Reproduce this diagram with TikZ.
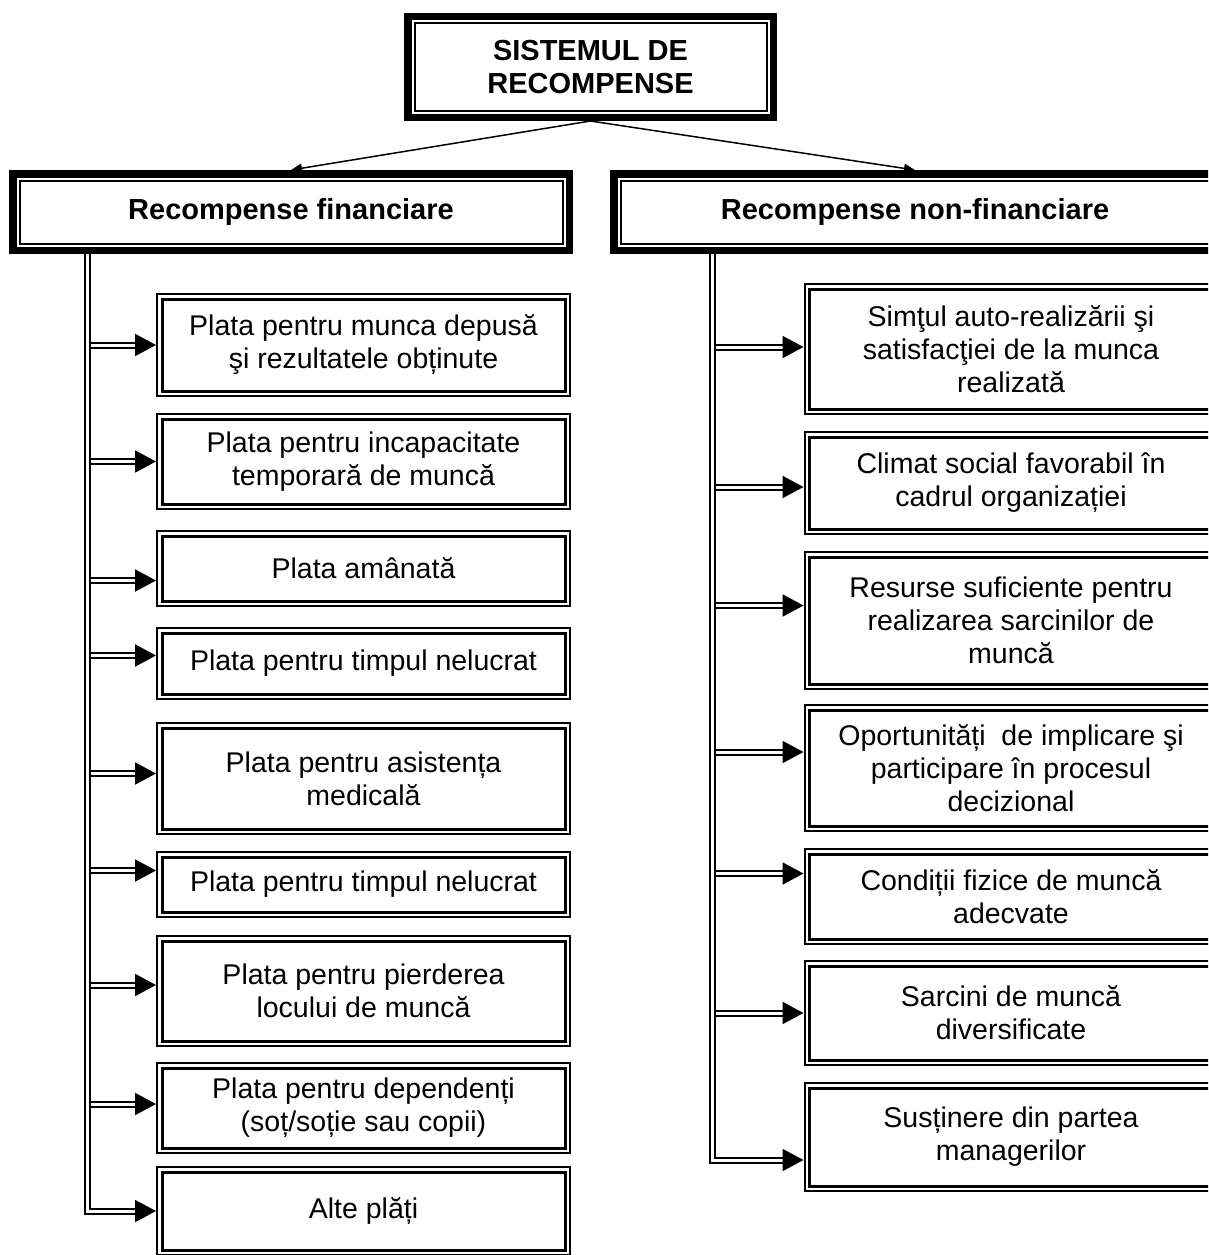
\documentclass[tikz,border=0pt]{standalone}
\usepackage{fontspec}
\setmainfont{Liberation Sans}
\usetikzlibrary{arrows.meta, positioning}

\begin{document}
\begin{tikzpicture}[
    x=1pt, y=-1pt,
    node distance=16pt,
    every node/.style={font=\fontsize{28.5}{33}\selectfont},
    framed/.style={rectangle, draw, line width=7.5pt, align=center, font=\fontsize{29}{33}\selectfont\bfseries,
        path picture={\draw[line width=2pt] ([shift={(6.75pt,-6.75pt)}]path picture bounding box.north west) rectangle ([shift={(-6.75pt,6.75pt)}]path picture bounding box.south east);}},
    item/.style={rectangle, draw, line width=2pt, minimum width=413pt, align=center,
        path picture={\draw[line width=3pt] ([shift={(5pt,-5pt)}]path picture bounding box.north west) rectangle ([shift={(-5pt,5pt)}]path picture bounding box.south east);}},
    link/.style={draw, line width=1.5pt, -{Triangle[length=11pt,width=9pt]}},
    feed/.style={draw, line width=2pt, double, double distance=3pt, -{Triangle[length=21pt,width=22pt]}}
]
\useasboundingbox (0,0) rectangle (1208,1255);
\clip (0,0) rectangle (1208,1255);

% Top
\node[framed, minimum width=365.5pt, minimum height=100.5pt] (root) at (590.5,67) {SISTEMUL DE\\RECOMPENSE};
\node[framed, minimum width=556.5pt, minimum height=76.5pt] (fin) at (291,212) {Recompense financiare};
\node[framed, minimum width=602.5pt, minimum height=76.5pt] (nonfin) at (915,212) {Recompense non-financiare};

\draw[link] (root.south) -- (fin.north);
\draw[link] (root.south) -- (nonfin.north);

% Financial rewards
\node[item, minimum height=102pt] (f1) at (363.5,345) {Plata pentru munca depusă\\şi rezultatele obținute};
\node[item, minimum height=95pt, below=16pt of f1] (f2) {Plata pentru incapacitate\\temporară de muncă};
\node[item, minimum height=75pt, below=20pt of f2] (f3) {Plata amânată};
\node[item, minimum height=71pt, below=20pt of f3] (f4) {Plata pentru timpul nelucrat};
\node[item, minimum height=111pt, below=22pt of f4] (f5) {Plata pentru asistența\\medicală};
\node[item, minimum height=65pt, below=16pt of f5] (f6) {Plata pentru timpul nelucrat};
\node[item, minimum height=110pt, below=17pt of f6] (f7) {Plata pentru pierderea\\locului de muncă};
\node[item, minimum height=90pt, below=15pt of f7] (f8) {Plata pentru dependenți\\(soț/soție sau copii)};
\node[item, minimum height=88pt, below=12pt of f8] (f9) {Alte plăți};

\coordinate (finspine) at (87,254);
\draw[feed] (finspine) |- (f9.west);
\foreach \b/\dy in {f1/0, f2/0, f3/-12, f4/8, f5/5, f6/14, f7/6, f8/4}
    \draw[feed] ([xshift=3.5pt,yshift=\dy pt]finspine |- \b.west) -- ([yshift=\dy pt]\b.west);

% Non-financial rewards
\node[item, minimum height=130pt] (n1) at (1011,349) {Simţul auto-realizării şi\\satisfacţiei de la munca\\realizată};
\node[item, minimum height=102pt, below=16pt of n1] (n2) {Climat social favorabil în\\cadrul organizației};
\node[item, minimum height=137pt, below=16pt of n2] (n3) {Resurse suficiente pentru\\realizarea sarcinilor de\\muncă};
\node[item, minimum height=126pt, below=14pt of n3] (n4) {Oportunități~ de implicare şi\\participare în procesul\\decizional};
\node[item, minimum height=95pt, below=16pt of n4] (n5) {Condiții fizice de muncă\\adecvate};
\node[item, minimum height=104pt, below=15pt of n5] (n6) {Sarcini de muncă\\diversificate};
\node[item, minimum height=108pt, below=16pt of n6] (n7) {Susținere din partea\\managerilor};

\coordinate (nonspine) at (712,254);
\draw[feed] (nonspine) |- ([yshift=-23pt]n7.west);
\foreach \b/\dy in {n1/2, n2/-4, n3/15, n4/16, n5/23, n6/0}
    \draw[feed] ([xshift=3.5pt,yshift=\dy pt]nonspine |- \b.west) -- ([yshift=\dy pt]\b.west);

\end{tikzpicture}
\end{document}
